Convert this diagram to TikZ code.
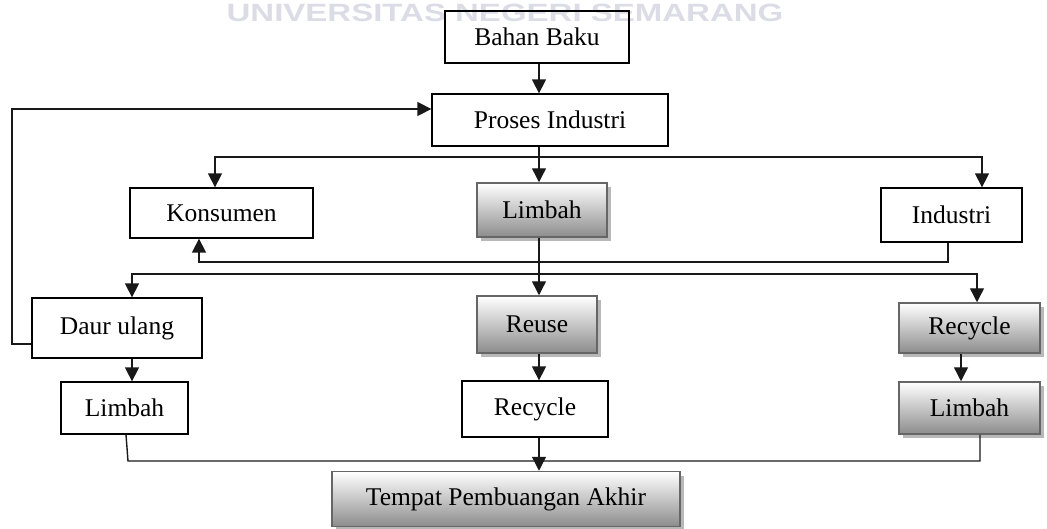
\documentclass[tikz,border=0pt]{standalone}
\usepackage{fontspec}
\setmainfont{Liberation Serif}
\newfontfamily\wmfont{Liberation Sans}
\usetikzlibrary{arrows.meta,shadows,calc}
\definecolor{wmcol}{RGB}{220,220,230}
\begin{document}
\begin{tikzpicture}[x=1pt,y=-1pt,
  font=\fontsize{25.5}{30}\selectfont,
  box/.style={draw=black,line width=1.3pt,fill=white,inner sep=0pt},
  gbox/.style={draw=black!60,line width=1.5pt,inner sep=0pt,
    top color=white,middle color=black!12,bottom color=black!45,
    drop shadow={shadow xshift=4pt,shadow yshift=-4pt,fill=black!28,opacity=1}},
  arr/.style={line width=1.4pt,draw=black!90,-{Triangle[width=14pt,length=14pt]}},
  ln/.style={line width=1.4pt,draw=black!90}]
\useasboundingbox (0,0) rectangle (1047,528);

% watermark
\node[text=wmcol,inner sep=0pt] (wm) at (505,13)
  {\wmfont\bfseries\fontsize{25}{25}\selectfont\scalebox{1.32}[1]{UNIVERSITAS NEGERI SEMARANG}};

% nodes
\node[box,fill=none,minimum width=184pt,minimum height=52pt] (bahan) at (537,37) {\raisebox{-2pt}{Bahan Baku}};
\node[box,minimum width=236pt,minimum height=52pt] (proses) at (550,120) {Proses Industri};
\node[box,minimum width=183pt,minimum height=50pt] (konsumen) at (221.5,213) {Konsumen};
\node[gbox,minimum width=130pt,minimum height=54pt] (limbah1) at (542,210) {Limbah};
\node[box,minimum width=141pt,minimum height=54pt] (industri) at (951.5,215) {Industri};
\node[box,minimum width=170pt,minimum height=60pt] (daur) at (117,328) {Daur ulang};
\node[gbox,minimum width=120pt,minimum height=57pt] (reuse) at (537,324.5) {Reuse};
\node[gbox,minimum width=141pt,minimum height=50pt] (recycleR) at (969.5,328) {Recycle};
\node[box,minimum width=127pt,minimum height=52pt] (limbahL) at (124.5,408) {Limbah};
\node[box,minimum width=146pt,minimum height=56pt] (recycleM) at (535,409) {Recycle};
\node[gbox,minimum width=141pt,minimum height=52pt] (limbahR) at (969.5,408) {Limbah};
\node[gbox,minimum width=348pt,minimum height=55pt] (tpa) at (506,499) {Tempat Pembuangan Akhir};

% helper coordinates
\coordinate (c) at (539,0);
\coordinate (j1) at (539,157);
\coordinate (j2) at (539,274);
\coordinate (k2) at (199,262);
\coordinate (fb) at (12,109);
\coordinate (b1) at (128,461);
\coordinate (b2) at (980,461);

% connectors
\draw[arr] ([xshift=2pt]bahan.south) -- ([xshift=2pt]bahan.south |- proses.north);
\draw[arr] (c |- proses.south) -- (c |- limbah1.north);
\draw[arr] (j1) -| ([xshift=-6.5pt]konsumen.north);
\draw[arr] (j1) -| ([xshift=30.5pt]industri.north);
\draw[arr] ([xshift=-3.5pt]industri.south) |- (k2) -- (k2 |- konsumen.south);
\draw[ln] (c |- limbah1.south) -- (j2);
\draw[arr] (j2) -- (c |- reuse.north);
\draw[arr] (j2) -| ([xshift=15pt]daur.north);
\draw[arr] (j2) -| ([xshift=7.5pt]recycleR.north);
\draw[arr] ([yshift=-16pt]daur.west) -| (fb) -- (fb -| proses.west);
\draw[arr] ([xshift=15pt]daur.south) -- ([xshift=15pt]daur.south |- limbahL.north);
\draw[arr] (c |- reuse.south) -- (c |- recycleM.north);
\draw[arr] (c |- recycleM.south) -- (c |- tpa.north);
\draw[arr] ([xshift=-8.5pt]recycleR.south) -- ([xshift=-8.5pt]recycleR.south |- limbahR.north);
\draw[ln] ([xshift=1.5pt]limbahL.south) -- (b1) -- (b2) -- (b2 |- limbahR.south);
\end{tikzpicture}
\end{document}
